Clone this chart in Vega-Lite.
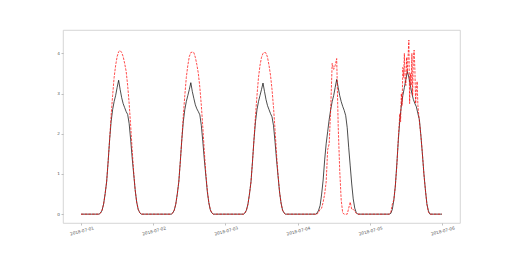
{
  "$schema": "https://vega.github.io/schema/vega-lite/v6.json",
  "autosize": {"type": "none"},
  "width": 397,
  "height": 193,
  "padding": {"left": 63, "top": 30, "right": 52, "bottom": 33},
  "background": "white",
  "config": {
    "view": {"stroke": "#cccccc", "strokeWidth": 0.8},
    "axis": {"grid": false, "domain": false, "labelFont": "DejaVu Sans", "labelFontSize": 4.2, "labelColor": "#555555", "tickColor": "#999999", "tickSize": 2, "tickWidth": 0.6, "title": null}
  },
  "datasets": {
    "meas": [
      {"t": "2018-07-01T00:00", "v": 0},
      {"t": "2018-07-01T06:00", "v": 0},
      {"t": "2018-07-01T06:30", "v": 0.03},
      {"t": "2018-07-01T07:00", "v": 0.1},
      {"t": "2018-07-01T07:30", "v": 0.25},
      {"t": "2018-07-01T08:00", "v": 0.5},
      {"t": "2018-07-01T08:30", "v": 0.8},
      {"t": "2018-07-01T09:00", "v": 1.3},
      {"t": "2018-07-01T09:30", "v": 1.85},
      {"t": "2018-07-01T10:00", "v": 2.3},
      {"t": "2018-07-01T10:30", "v": 2.6},
      {"t": "2018-07-01T11:00", "v": 2.8},
      {"t": "2018-07-01T11:30", "v": 2.95},
      {"t": "2018-07-01T12:00", "v": 3.15},
      {"t": "2018-07-01T12:30", "v": 3.33},
      {"t": "2018-07-01T13:00", "v": 3.1},
      {"t": "2018-07-01T13:30", "v": 2.9},
      {"t": "2018-07-01T14:00", "v": 2.75},
      {"t": "2018-07-01T14:30", "v": 2.65},
      {"t": "2018-07-01T15:00", "v": 2.55},
      {"t": "2018-07-01T15:30", "v": 2.48},
      {"t": "2018-07-01T16:00", "v": 2.25},
      {"t": "2018-07-01T16:30", "v": 1.85},
      {"t": "2018-07-01T17:00", "v": 1.4},
      {"t": "2018-07-01T17:30", "v": 1.0},
      {"t": "2018-07-01T18:00", "v": 0.6},
      {"t": "2018-07-01T18:30", "v": 0.3},
      {"t": "2018-07-01T19:00", "v": 0.12},
      {"t": "2018-07-01T19:30", "v": 0.04},
      {"t": "2018-07-01T20:00", "v": 0},
      {"t": "2018-07-02T06:00", "v": 0},
      {"t": "2018-07-02T06:30", "v": 0.03},
      {"t": "2018-07-02T07:00", "v": 0.1},
      {"t": "2018-07-02T07:30", "v": 0.25},
      {"t": "2018-07-02T08:00", "v": 0.5},
      {"t": "2018-07-02T08:30", "v": 0.8},
      {"t": "2018-07-02T09:00", "v": 1.3},
      {"t": "2018-07-02T09:30", "v": 1.85},
      {"t": "2018-07-02T10:00", "v": 2.3},
      {"t": "2018-07-02T10:30", "v": 2.6},
      {"t": "2018-07-02T11:00", "v": 2.8},
      {"t": "2018-07-02T11:30", "v": 2.95},
      {"t": "2018-07-02T12:00", "v": 3.1},
      {"t": "2018-07-02T12:30", "v": 3.27},
      {"t": "2018-07-02T13:00", "v": 3.05},
      {"t": "2018-07-02T13:30", "v": 2.88},
      {"t": "2018-07-02T14:00", "v": 2.72},
      {"t": "2018-07-02T14:30", "v": 2.62},
      {"t": "2018-07-02T15:00", "v": 2.55},
      {"t": "2018-07-02T15:30", "v": 2.47},
      {"t": "2018-07-02T16:00", "v": 2.2},
      {"t": "2018-07-02T16:30", "v": 1.8},
      {"t": "2018-07-02T17:00", "v": 1.35},
      {"t": "2018-07-02T17:30", "v": 0.95},
      {"t": "2018-07-02T18:00", "v": 0.55},
      {"t": "2018-07-02T18:30", "v": 0.28},
      {"t": "2018-07-02T19:00", "v": 0.1},
      {"t": "2018-07-02T19:30", "v": 0.03},
      {"t": "2018-07-02T20:00", "v": 0},
      {"t": "2018-07-03T06:00", "v": 0},
      {"t": "2018-07-03T06:30", "v": 0.03},
      {"t": "2018-07-03T07:00", "v": 0.1},
      {"t": "2018-07-03T07:30", "v": 0.25},
      {"t": "2018-07-03T08:00", "v": 0.5},
      {"t": "2018-07-03T08:30", "v": 0.8},
      {"t": "2018-07-03T09:00", "v": 1.3},
      {"t": "2018-07-03T09:30", "v": 1.85},
      {"t": "2018-07-03T10:00", "v": 2.3},
      {"t": "2018-07-03T10:30", "v": 2.6},
      {"t": "2018-07-03T11:00", "v": 2.8},
      {"t": "2018-07-03T11:30", "v": 2.95},
      {"t": "2018-07-03T12:00", "v": 3.1},
      {"t": "2018-07-03T12:30", "v": 3.26},
      {"t": "2018-07-03T13:00", "v": 3.05},
      {"t": "2018-07-03T13:30", "v": 2.85},
      {"t": "2018-07-03T14:00", "v": 2.7},
      {"t": "2018-07-03T14:30", "v": 2.6},
      {"t": "2018-07-03T15:00", "v": 2.5},
      {"t": "2018-07-03T15:30", "v": 2.42},
      {"t": "2018-07-03T16:00", "v": 2.2},
      {"t": "2018-07-03T16:30", "v": 1.8},
      {"t": "2018-07-03T17:00", "v": 1.35},
      {"t": "2018-07-03T17:30", "v": 0.95},
      {"t": "2018-07-03T18:00", "v": 0.55},
      {"t": "2018-07-03T18:30", "v": 0.28},
      {"t": "2018-07-03T19:00", "v": 0.1},
      {"t": "2018-07-03T19:30", "v": 0.03},
      {"t": "2018-07-03T20:00", "v": 0},
      {"t": "2018-07-04T06:00", "v": 0},
      {"t": "2018-07-04T06:30", "v": 0.03},
      {"t": "2018-07-04T07:00", "v": 0.1},
      {"t": "2018-07-04T07:30", "v": 0.22},
      {"t": "2018-07-04T08:00", "v": 0.5},
      {"t": "2018-07-04T08:30", "v": 0.85},
      {"t": "2018-07-04T09:00", "v": 1.35},
      {"t": "2018-07-04T09:30", "v": 1.75},
      {"t": "2018-07-04T10:00", "v": 2.05},
      {"t": "2018-07-04T10:30", "v": 2.35},
      {"t": "2018-07-04T11:00", "v": 2.6},
      {"t": "2018-07-04T11:30", "v": 2.8},
      {"t": "2018-07-04T12:00", "v": 2.95},
      {"t": "2018-07-04T12:30", "v": 3.15},
      {"t": "2018-07-04T13:00", "v": 3.35},
      {"t": "2018-07-04T13:30", "v": 3.15},
      {"t": "2018-07-04T14:00", "v": 2.95},
      {"t": "2018-07-04T14:30", "v": 2.8},
      {"t": "2018-07-04T15:00", "v": 2.68},
      {"t": "2018-07-04T15:30", "v": 2.58},
      {"t": "2018-07-04T16:00", "v": 2.45},
      {"t": "2018-07-04T16:30", "v": 2.15},
      {"t": "2018-07-04T17:00", "v": 1.65},
      {"t": "2018-07-04T17:30", "v": 1.2},
      {"t": "2018-07-04T18:00", "v": 0.75},
      {"t": "2018-07-04T18:30", "v": 0.38},
      {"t": "2018-07-04T19:00", "v": 0.15},
      {"t": "2018-07-04T19:30", "v": 0.04},
      {"t": "2018-07-04T20:00", "v": 0},
      {"t": "2018-07-05T06:30", "v": 0},
      {"t": "2018-07-05T07:00", "v": 0.02},
      {"t": "2018-07-05T07:30", "v": 0.12},
      {"t": "2018-07-05T08:00", "v": 0.35},
      {"t": "2018-07-05T08:30", "v": 0.7},
      {"t": "2018-07-05T09:00", "v": 1.25},
      {"t": "2018-07-05T09:30", "v": 1.85},
      {"t": "2018-07-05T10:00", "v": 2.35},
      {"t": "2018-07-05T10:30", "v": 2.7},
      {"t": "2018-07-05T11:00", "v": 2.95},
      {"t": "2018-07-05T11:30", "v": 3.15},
      {"t": "2018-07-05T12:00", "v": 3.35},
      {"t": "2018-07-05T12:30", "v": 3.55},
      {"t": "2018-07-05T13:00", "v": 3.4},
      {"t": "2018-07-05T13:30", "v": 3.2},
      {"t": "2018-07-05T14:00", "v": 3.0},
      {"t": "2018-07-05T14:30", "v": 2.85},
      {"t": "2018-07-05T15:00", "v": 2.75},
      {"t": "2018-07-05T15:30", "v": 2.67},
      {"t": "2018-07-05T16:00", "v": 2.5},
      {"t": "2018-07-05T16:30", "v": 2.35},
      {"t": "2018-07-05T17:00", "v": 1.95},
      {"t": "2018-07-05T17:30", "v": 1.5},
      {"t": "2018-07-05T18:00", "v": 1.0},
      {"t": "2018-07-05T18:30", "v": 0.6},
      {"t": "2018-07-05T19:00", "v": 0.25},
      {"t": "2018-07-05T19:30", "v": 0.08},
      {"t": "2018-07-05T20:00", "v": 0},
      {"t": "2018-07-06T00:00", "v": 0}
    ],
    "model": [
      {"t": "2018-07-01T00:00", "v": 0},
      {"t": "2018-07-01T06:00", "v": 0},
      {"t": "2018-07-01T06:30", "v": 0.03},
      {"t": "2018-07-01T07:00", "v": 0.1},
      {"t": "2018-07-01T07:30", "v": 0.25},
      {"t": "2018-07-01T08:00", "v": 0.5},
      {"t": "2018-07-01T08:30", "v": 0.8},
      {"t": "2018-07-01T09:00", "v": 1.3},
      {"t": "2018-07-01T09:30", "v": 1.85},
      {"t": "2018-07-01T10:00", "v": 2.45},
      {"t": "2018-07-01T10:30", "v": 2.95},
      {"t": "2018-07-01T11:00", "v": 3.4},
      {"t": "2018-07-01T11:30", "v": 3.7},
      {"t": "2018-07-01T12:00", "v": 3.92},
      {"t": "2018-07-01T12:30", "v": 4.04},
      {"t": "2018-07-01T13:00", "v": 4.07},
      {"t": "2018-07-01T13:30", "v": 4.02},
      {"t": "2018-07-01T14:00", "v": 3.92},
      {"t": "2018-07-01T14:30", "v": 3.75},
      {"t": "2018-07-01T15:00", "v": 3.55},
      {"t": "2018-07-01T15:30", "v": 3.2},
      {"t": "2018-07-01T16:00", "v": 2.75},
      {"t": "2018-07-01T16:30", "v": 2.2},
      {"t": "2018-07-01T17:00", "v": 1.6},
      {"t": "2018-07-01T17:30", "v": 1.05},
      {"t": "2018-07-01T18:00", "v": 0.6},
      {"t": "2018-07-01T18:30", "v": 0.3},
      {"t": "2018-07-01T19:00", "v": 0.12},
      {"t": "2018-07-01T19:30", "v": 0.04},
      {"t": "2018-07-01T20:00", "v": 0},
      {"t": "2018-07-02T06:00", "v": 0},
      {"t": "2018-07-02T06:30", "v": 0.03},
      {"t": "2018-07-02T07:00", "v": 0.1},
      {"t": "2018-07-02T07:30", "v": 0.25},
      {"t": "2018-07-02T08:00", "v": 0.5},
      {"t": "2018-07-02T08:30", "v": 0.8},
      {"t": "2018-07-02T09:00", "v": 1.3},
      {"t": "2018-07-02T09:30", "v": 1.85},
      {"t": "2018-07-02T10:00", "v": 2.45},
      {"t": "2018-07-02T10:30", "v": 2.95},
      {"t": "2018-07-02T11:00", "v": 3.4},
      {"t": "2018-07-02T11:30", "v": 3.7},
      {"t": "2018-07-02T12:00", "v": 3.92},
      {"t": "2018-07-02T12:30", "v": 4.02},
      {"t": "2018-07-02T13:00", "v": 4.03},
      {"t": "2018-07-02T13:30", "v": 4.02},
      {"t": "2018-07-02T14:00", "v": 3.9},
      {"t": "2018-07-02T14:30", "v": 3.72},
      {"t": "2018-07-02T15:00", "v": 3.5},
      {"t": "2018-07-02T15:30", "v": 3.15},
      {"t": "2018-07-02T16:00", "v": 2.7},
      {"t": "2018-07-02T16:30", "v": 2.15},
      {"t": "2018-07-02T17:00", "v": 1.55},
      {"t": "2018-07-02T17:30", "v": 1.0},
      {"t": "2018-07-02T18:00", "v": 0.58},
      {"t": "2018-07-02T18:30", "v": 0.28},
      {"t": "2018-07-02T19:00", "v": 0.11},
      {"t": "2018-07-02T19:30", "v": 0.03},
      {"t": "2018-07-02T20:00", "v": 0},
      {"t": "2018-07-03T06:00", "v": 0},
      {"t": "2018-07-03T06:30", "v": 0.03},
      {"t": "2018-07-03T07:00", "v": 0.1},
      {"t": "2018-07-03T07:30", "v": 0.25},
      {"t": "2018-07-03T08:00", "v": 0.5},
      {"t": "2018-07-03T08:30", "v": 0.8},
      {"t": "2018-07-03T09:00", "v": 1.3},
      {"t": "2018-07-03T09:30", "v": 1.85},
      {"t": "2018-07-03T10:00", "v": 2.45},
      {"t": "2018-07-03T10:30", "v": 2.95},
      {"t": "2018-07-03T11:00", "v": 3.4},
      {"t": "2018-07-03T11:30", "v": 3.7},
      {"t": "2018-07-03T12:00", "v": 3.9},
      {"t": "2018-07-03T12:30", "v": 4.0},
      {"t": "2018-07-03T13:00", "v": 4.02},
      {"t": "2018-07-03T13:30", "v": 4.01},
      {"t": "2018-07-03T14:00", "v": 3.9},
      {"t": "2018-07-03T14:30", "v": 3.7},
      {"t": "2018-07-03T15:00", "v": 3.45},
      {"t": "2018-07-03T15:30", "v": 3.1},
      {"t": "2018-07-03T16:00", "v": 2.65},
      {"t": "2018-07-03T16:30", "v": 2.1},
      {"t": "2018-07-03T17:00", "v": 1.5},
      {"t": "2018-07-03T17:30", "v": 0.98},
      {"t": "2018-07-03T18:00", "v": 0.56},
      {"t": "2018-07-03T18:30", "v": 0.27},
      {"t": "2018-07-03T19:00", "v": 0.1},
      {"t": "2018-07-03T19:30", "v": 0.03},
      {"t": "2018-07-03T20:00", "v": 0},
      {"t": "2018-07-04T06:30", "v": 0},
      {"t": "2018-07-04T07:00", "v": 0.05},
      {"t": "2018-07-04T07:30", "v": 0.12},
      {"t": "2018-07-04T08:00", "v": 0.15},
      {"t": "2018-07-04T08:30", "v": 0.3},
      {"t": "2018-07-04T09:00", "v": 0.5},
      {"t": "2018-07-04T09:30", "v": 0.8},
      {"t": "2018-07-04T10:00", "v": 1.6},
      {"t": "2018-07-04T10:30", "v": 1.75},
      {"t": "2018-07-04T11:00", "v": 2.6},
      {"t": "2018-07-04T11:30", "v": 3.75},
      {"t": "2018-07-04T12:00", "v": 3.6},
      {"t": "2018-07-04T12:30", "v": 3.7},
      {"t": "2018-07-04T13:00", "v": 3.87},
      {"t": "2018-07-04T13:30", "v": 2.2},
      {"t": "2018-07-04T14:00", "v": 1.1},
      {"t": "2018-07-04T14:30", "v": 0.35},
      {"t": "2018-07-04T15:00", "v": 0.03},
      {"t": "2018-07-04T15:30", "v": 0},
      {"t": "2018-07-04T16:30", "v": 0},
      {"t": "2018-07-04T17:00", "v": 0.15},
      {"t": "2018-07-04T17:30", "v": 0.3},
      {"t": "2018-07-04T18:00", "v": 0.12},
      {"t": "2018-07-04T18:30", "v": 0.12},
      {"t": "2018-07-04T19:00", "v": 0.08},
      {"t": "2018-07-04T19:30", "v": 0.02},
      {"t": "2018-07-04T20:00", "v": 0},
      {"t": "2018-07-05T06:30", "v": 0},
      {"t": "2018-07-05T07:00", "v": 0.05},
      {"t": "2018-07-05T07:30", "v": 0.25},
      {"t": "2018-07-05T08:00", "v": 0.35},
      {"t": "2018-07-05T08:30", "v": 0.7},
      {"t": "2018-07-05T09:00", "v": 1.2},
      {"t": "2018-07-05T09:30", "v": 1.9},
      {"t": "2018-07-05T10:00", "v": 2.5},
      {"t": "2018-07-05T10:15", "v": 2.3},
      {"t": "2018-07-05T10:30", "v": 3.0},
      {"t": "2018-07-05T10:45", "v": 2.7},
      {"t": "2018-07-05T11:00", "v": 3.65},
      {"t": "2018-07-05T11:15", "v": 3.4},
      {"t": "2018-07-05T11:30", "v": 4.0},
      {"t": "2018-07-05T11:45", "v": 3.3},
      {"t": "2018-07-05T12:00", "v": 3.2},
      {"t": "2018-07-05T12:15", "v": 3.9},
      {"t": "2018-07-05T12:30", "v": 3.5},
      {"t": "2018-07-05T12:45", "v": 3.95},
      {"t": "2018-07-05T13:00", "v": 4.33},
      {"t": "2018-07-05T13:15", "v": 2.75},
      {"t": "2018-07-05T13:30", "v": 3.5},
      {"t": "2018-07-05T13:45", "v": 3.2},
      {"t": "2018-07-05T14:00", "v": 4.0},
      {"t": "2018-07-05T14:15", "v": 2.95},
      {"t": "2018-07-05T14:30", "v": 3.9},
      {"t": "2018-07-05T14:45", "v": 4.08},
      {"t": "2018-07-05T15:00", "v": 3.6},
      {"t": "2018-07-05T15:15", "v": 2.75},
      {"t": "2018-07-05T15:30", "v": 3.1},
      {"t": "2018-07-05T15:45", "v": 3.3},
      {"t": "2018-07-05T16:00", "v": 2.7},
      {"t": "2018-07-05T16:30", "v": 2.3},
      {"t": "2018-07-05T17:00", "v": 1.95},
      {"t": "2018-07-05T17:30", "v": 1.5},
      {"t": "2018-07-05T18:00", "v": 1.0},
      {"t": "2018-07-05T18:30", "v": 0.6},
      {"t": "2018-07-05T19:00", "v": 0.25},
      {"t": "2018-07-05T19:30", "v": 0.05},
      {"t": "2018-07-05T20:00", "v": 0},
      {"t": "2018-07-06T00:00", "v": 0}
    ]
  },
  "encoding": {
    "x": {
      "field": "t", "type": "temporal",
      "scale": {"domain": [{"year": 2018, "month": 6, "date": 30, "hours": 18}, {"year": 2018, "month": 7, "date": 6, "hours": 6}]},
      "axis": {"format": "%Y-%m-%d", "tickCount": {"interval": "day", "step": 1}, "labelAngle": -15, "labelAlign": "center", "labelBaseline": "top", "labelPadding": 4}
    },
    "y": {
      "field": "v", "type": "quantitative",
      "scale": {"domain": [-0.22, 4.58], "nice": false, "zero": false},
      "axis": {"values": [0, 1, 2, 3, 4], "labelPadding": 1.5}
    }
  },
  "layer": [
    {"data": {"name": "meas"}, "mark": {"type": "line", "color": "black", "strokeWidth": 0.7}},
    {"data": {"name": "model"}, "mark": {"type": "line", "color": "red", "strokeWidth": 0.7, "strokeDash": [2.5, 1.2]}}
  ]
}
